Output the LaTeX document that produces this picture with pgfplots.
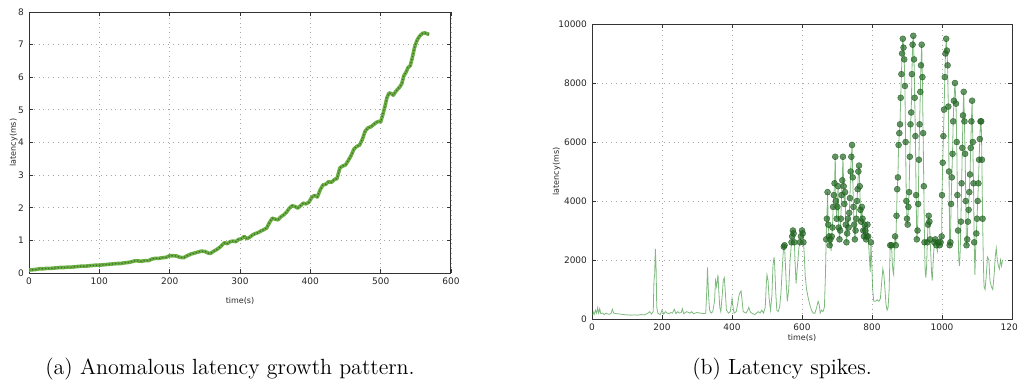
\documentclass[border=0pt]{standalone}
\usepackage{fontspec}
\setsansfont{DejaVu Sans}
\usepackage{pgfplots}
\pgfplotsset{compat=1.18}
\usepackage{pgfplotstable}

\pgfplotstableread{
x y
0 0.09
5 0.10
10 0.11
15 0.13
20 0.13
25 0.14
30 0.14
35 0.15
40 0.16
45 0.17
50 0.17
55 0.18
60 0.18
65 0.19
70 0.20
75 0.21
80 0.21
85 0.22
90 0.23
95 0.24
100 0.24
105 0.25
110 0.26
115 0.27
120 0.28
125 0.29
130 0.29
135 0.31
140 0.32
145 0.34
150 0.37
155 0.37
160 0.36
165 0.38
170 0.38
175 0.43
180 0.45
185 0.45
190 0.47
195 0.48
200 0.53
205 0.53
210 0.52
215 0.48
220 0.47
225 0.53
230 0.58
235 0.61
240 0.64
245 0.67
250 0.66
255 0.61
258 0.60
262 0.66
267 0.72
272 0.80
278 0.93
282 0.90
286 0.96
290 0.98
294 0.96
298 1.03
302 1.05
306 1.12
310 1.05
314 1.10
318 1.17
322 1.21
326 1.24
330 1.29
334 1.33
338 1.38
342 1.55
346 1.68
350 1.65
354 1.63
358 1.72
362 1.78
366 1.86
370 1.98
374 2.06
378 2.04
382 1.99
386 2.06
390 2.14
394 2.12
398 2.17
402 2.32
406 2.38
410 2.33
414 2.55
418 2.70
422 2.72
426 2.80
430 2.78
434 2.86
438 2.90
442 3.22
446 3.28
450 3.31
454 3.45
458 3.60
462 3.80
466 3.88
470 3.92
474 4.10
478 4.35
482 4.45
486 4.48
490 4.55
494 4.62
498 4.65
500 4.63
503 4.85
506 5.10
509 5.38
512 5.52
515 5.50
518 5.45
521 5.55
524 5.63
527 5.70
530 5.80
533 6.05
536 6.15
539 6.30
542 6.35
545 6.60
548 6.90
551 7.10
554 7.22
557 7.30
560 7.35
563 7.36
566 7.33
569 7.32
}\growth

\pgfplotstableread{
x y
0 100
3 250
6 150
10 300
13 200
16 380
19 200
22 350
25 180
30 200
35 150
40 200
45 170
50 160
55 200
58 330
62 200
70 180
80 170
90 150
100 140
110 130
120 140
130 130
140 150
150 140
160 200
165 250
170 170
175 250
177 1300
179 1500
181 2380
183 1800
185 400
188 200
195 150
200 300
205 170
210 250
215 200
220 180
225 220
230 200
235 330
240 180
245 250
250 200
255 220
258 350
262 180
270 250
280 200
285 250
290 180
300 220
310 200
320 180
325 200
328 1000
330 1750
333 800
336 300
340 200
345 250
350 600
353 1300
356 1100
358 1300
360 1500
362 1000
365 400
368 250
372 800
375 1300
378 1400
381 900
384 300
390 200
395 250
398 500
400 700
403 400
406 200
412 250
416 500
420 800
423 900
426 950
429 600
432 250
440 200
445 300
448 400
452 250
456 200
465 150
470 200
475 250
480 200
485 300
490 200
495 400
498 1200
500 1500
503 1300
506 700
510 300
514 800
517 1800
520 2100
522 1800
525 900
528 300
532 250
536 400
540 900
543 1600
546 2200
548 2450
550 2500
552 2000
555 1200
558 600
562 1000
566 2000
570 2600
572 2800
574 3000
576 2900
578 2600
580 2000
583 1200
587 1800
591 2400
594 2600
597 2800
600 3000
602 2900
604 2600
606 2300
609 1500
613 1000
618 700
622 500
627 300
632 200
637 200
642 400
646 600
649 500
652 200
656 300
660 250
664 400
667 1500
669 2700
671 3400
673 4300
675 3200
677 2800
679 2500
681 2700
683 2300
685 2800
687 3100
689 3800
691 4200
693 4600
695 5500
697 4000
699 3400
701 3800
703 4500
705 3100
707 2700
709 3000
711 3400
713 4200
715 4700
717 5500
719 4500
721 3900
723 4300
725 3200
727 2600
729 2900
731 3400
733 3100
735 3600
737 4100
739 5000
741 5500
743 5900
745 4800
747 3800
749 3200
751 2700
753 3000
755 3400
757 4000
759 4400
761 5000
763 5200
765 4500
767 3700
769 3300
771 3800
773 3400
775 3000
777 2800
779 3200
781 3000
783 2700
785 2800
787 3200
789 2800
791 2400
793 2000
795 1600
797 2600
799 2000
802 1000
805 600
810 600
815 650
820 600
824 700
828 1300
831 1700
834 1500
837 1000
840 500
843 300
846 400
849 1000
852 2500
854 2400
856 2500
858 1900
860 1600
862 1500
864 2400
866 2800
868 2500
870 3500
872 4400
874 4800
876 5900
878 6300
880 6600
882 7500
884 8300
886 9000
888 9500
890 9200
892 8800
894 7900
896 6000
898 4000
900 3400
902 3200
904 3800
906 4300
908 5500
910 6600
912 7000
914 8300
916 9300
918 9600
920 8800
922 7500
924 6200
926 4200
928 2700
930 3000
932 3900
934 5400
936 6600
938 7700
940 8600
942 9300
944 8200
946 6300
948 4500
950 2600
952 1600
954 1400
956 1800
958 2600
960 3200
962 3500
964 3300
966 2700
968 2200
970 1600
972 1300
975 2000
978 2600
981 2700
984 2500
987 2300
990 2600
993 2500
996 2600
999 2800
1000 4200
1002 5300
1004 6200
1006 7100
1008 8200
1010 9000
1012 9500
1014 9100
1016 8600
1018 7200
1020 5000
1022 2500
1024 2600
1026 3900
1028 4800
1030 5600
1032 6700
1034 7400
1037 8000
1040 7300
1042 6000
1044 4200
1046 3000
1048 2000
1050 1800
1052 2300
1054 3300
1056 4600
1058 5800
1060 6900
1062 7700
1064 6700
1066 5600
1068 4000
1070 2500
1072 2700
1074 3300
1076 3700
1078 4300
1080 4900
1082 5800
1084 6700
1086 7400
1088 6000
1090 4600
1092 2600
1094 1500
1096 2300
1098 2900
1100 3400
1102 4000
1104 4600
1106 5400
1108 6100
1110 6700
1112 6700
1114 5400
1116 3400
1118 2000
1120 1100
1123 1000
1126 1400
1130 2100
1134 2000
1137 1300
1141 1100
1145 1000
1149 1500
1152 2100
1155 2400
1158 2000
1161 1800
1164 1700
1167 2000
1170 1800
1173 2000
}\spikes

\definecolor{lgreen}{RGB}{105,175,65}
\definecolor{dgreen}{RGB}{70,105,50}
\definecolor{sline}{RGB}{40,140,40}
\definecolor{smark}{RGB}{35,105,35}

\pgfplotsset{mpl/.style={
  scale only axis,
  axis line style={black!80, line width=0.5pt},
  grid=major,
  grid style={dotted, gray!70, line width=0.4pt},
  tick align=inside,
  major tick length=2pt,
  tick style={black!80, line width=0.4pt},
  ticklabel style={font=\sffamily\fontsize{4.5}{5}\selectfont, black!85},
  /pgf/number format/assume math mode=true,
  /pgf/number format/1000 sep={},
  scaled ticks=false,
  label style={font=\sffamily\fontsize{4}{5}\selectfont, black!85},
  xticklabel style={yshift=1pt},
  yticklabel style={xshift=1pt},
}}

\begin{document}
\begin{tikzpicture}
\useasboundingbox (0,0) rectangle (509pt,191pt);
\begin{axis}[mpl, at={(14.5pt,54.5pt)}, anchor=south west,
  width=211pt, height=130.5pt,
  xmin=0, xmax=600, ymin=0, ymax=8,
  xtick={0,100,...,600}, ytick={0,1,...,8},
  xlabel={time(s)}, ylabel={latency(ms)},
  xlabel style={yshift=0.5pt}, ylabel style={yshift=-6.5pt}]
\addplot[color=lgreen, line width=1.8pt, line join=round] table[x=x,y=y] {\growth};
\addplot[color=dgreen, line width=0.6pt, densely dotted] table[x=x,y=y] {\growth};
\end{axis}
\begin{axis}[mpl, at={(296pt,31.5pt)}, anchor=south west,
  width=210pt, height=147.5pt,
  xmin=0, xmax=1200, ymin=0, ymax=10000,
  xtick={0,200,...,1200}, ytick={0,2000,...,10000},
  xlabel={time(s)}, ylabel={latency(ms)},
  xlabel style={yshift=5pt}, ylabel style={yshift=-8pt}]
\addplot[color=sline, opacity=0.6, line width=0.4pt] table[x=x,y=y] {\spikes};
\addplot[only marks, mark=*, mark size=1.5pt,
  mark options={fill=smark, draw=smark!80!black, fill opacity=0.7, draw opacity=0.8, line width=0.2pt},
  restrict y to domain=2450:11000] table[x=x,y=y] {\spikes};
\end{axis}
\node[font=\fontsize{11}{13}\selectfont] at (115pt,6.5pt) {(a) Anomalous latency growth pattern.};
\node[font=\fontsize{11}{13}\selectfont] at (391pt,6.5pt) {(b) Latency spikes.};
\end{tikzpicture}
\end{document}
